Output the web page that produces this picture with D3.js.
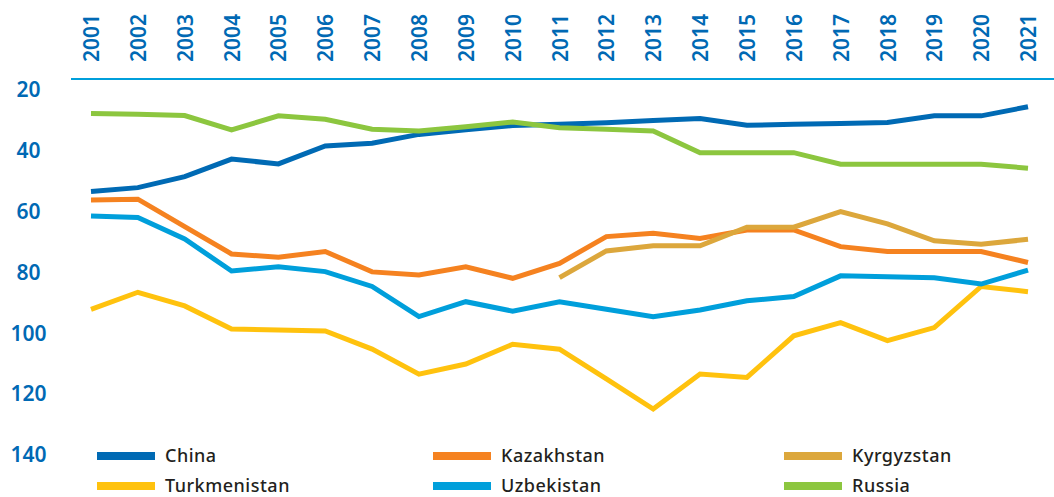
<!DOCTYPE html>
<meta charset="utf-8">
<style>
  body { margin: 0; background: #fff; }
  text { font-family: "Noto Sans", sans-serif; }
</style>
<body>
<svg width="1054" height="497"></svg>
<script src="https://d3js.org/d3.v7.min.js"></script>
<script>
// years along the top axis
var years = d3.range(2001, 2022);

// ranks (lower = better, axis is inverted)
var china        = [53.4, 52.1, 48.5, 42.7, 44.3, 38.4, 37.5, 34.6, 33.1, 31.7, 31.3, 30.8, 30.0, 29.4, 31.6, 31.3, 31.0, 30.7, 28.5, 28.5, 25.5];
var kazakhstan   = [56.2, 55.9, 64.9, 73.9, 75.0, 73.1, 79.8, 80.8, 78.1, 81.9, 77.0, 68.2, 67.1, 68.8, 66.0, 66.0, 71.5, 73.1, 73.1, 73.1, 76.7];
var kyrgyzstan   = [null, null, null, null, null, null, null, null, null, null, 81.7, 72.9, 71.2, 71.2, 65.1, 65.1, 60.0, 64.0, 69.6, 70.7, 69.1];
var turkmenistan = [92.1, 86.5, 91.0, 98.6, 98.9, 99.2, 105.2, 113.4, 110.1, 103.6, 105.2, 115.0, 124.9, 113.4, 114.5, 100.8, 96.5, 102.4, 98.1, 84.6, 86.3];
var uzbekistan   = [61.4, 61.9, 69.0, 79.5, 78.1, 79.7, 84.6, 94.5, 89.6, 92.7, 89.6, 92.1, 94.5, 92.3, 89.3, 87.9, 81.1, 81.4, 81.7, 83.8, 79.2];
var russia       = [27.7, 28.0, 28.4, 33.1, 28.5, 29.6, 32.9, 33.5, 32.1, 30.5, 32.4, 32.9, 33.5, 40.6, 40.6, 40.6, 44.4, 44.4, 44.4, 44.4, 45.7];

var names  = ["China", "Kazakhstan", "Kyrgyzstan", "Turkmenistan", "Uzbekistan", "Russia"];
var values = [china, kazakhstan, kyrgyzstan, turkmenistan, uzbekistan, russia];
var colors = ["#006ab4", "#f58220", "#dca73c", "#ffc20e", "#009fdb", "#8cc63f"];
var yTicks = [20, 40, 60, 80, 100, 120, 140];

var svg = d3.select("svg");

var x = d3.scaleLinear().domain([2001, 2021]).range([91, 1028]);
var y = d3.scaleLinear().domain([20, 140]).range([90, 455]);

// top axis: rotated year labels
var xAxis = svg.append("g")
  .attr("transform", "translate(0,62)")
  .call(d3.axisTop(x).tickValues(years).tickFormat(d3.format("d")).tickSize(0));
xAxis.select(".domain").remove();
xAxis.selectAll("text")
  .attr("transform", "rotate(-90)")
  .attr("x", 0).attr("y", 0).attr("dy", "0.36em")
  .style("text-anchor", "start")
  .style("font-family", "'Noto Sans', sans-serif")
  .style("font-size", "21px").style("font-weight", 600)
  .attr("fill", "#0069b4");

// blue rule under the years
svg.append("line")
  .attr("x1", 71).attr("x2", 1054)
  .attr("y1", 79).attr("y2", 79)
  .attr("stroke", "#009fdb").attr("stroke-width", 2);

// left axis
var yAxis = svg.append("g")
  .attr("transform", "translate(28.5,0)")
  .call(d3.axisLeft(y).tickValues(yTicks).tickSize(0));
yAxis.select(".domain").remove();
yAxis.selectAll("text")
  .attr("x", 0)
  .style("text-anchor", "middle")
  .style("font-family", "'Noto Sans', sans-serif")
  .style("font-size", "21px").style("font-weight", 600)
  .attr("fill", "#0069b4");

// lines
var line = d3.line()
  .defined(function (d) { return d != null; })
  .x(function (d, i) { return x(years[i]); })
  .y(function (d) { return y(d); });

values.forEach(function (v, k) {
  svg.append("path")
    .datum(v)
    .attr("d", line)
    .attr("fill", "none")
    .attr("stroke", colors[k])
    .attr("stroke-width", 5)
    .attr("stroke-linejoin", "miter");
});

// legend, 3 columns x 2 rows
var colX = [97, 433, 784];
var rowY = [456, 486];
var legend = svg.append("g");
names.forEach(function (n, k) {
  var g = legend.append("g")
    .attr("transform", "translate(" + colX[k % 3] + "," + rowY[Math.floor(k / 3)] + ")");
  g.append("rect")
    .attr("x", 0).attr("y", -4)
    .attr("width", 58).attr("height", 8)
    .attr("fill", colors[k]);
  g.append("text")
    .attr("x", 68).attr("y", 0).attr("dy", "0.33em")
    .style("font-size", "18px").style("font-weight", 500)
    .style("letter-spacing", "0.5px")
    .attr("fill", "#231f20")
    .text(n);
});
</script>
</body>
